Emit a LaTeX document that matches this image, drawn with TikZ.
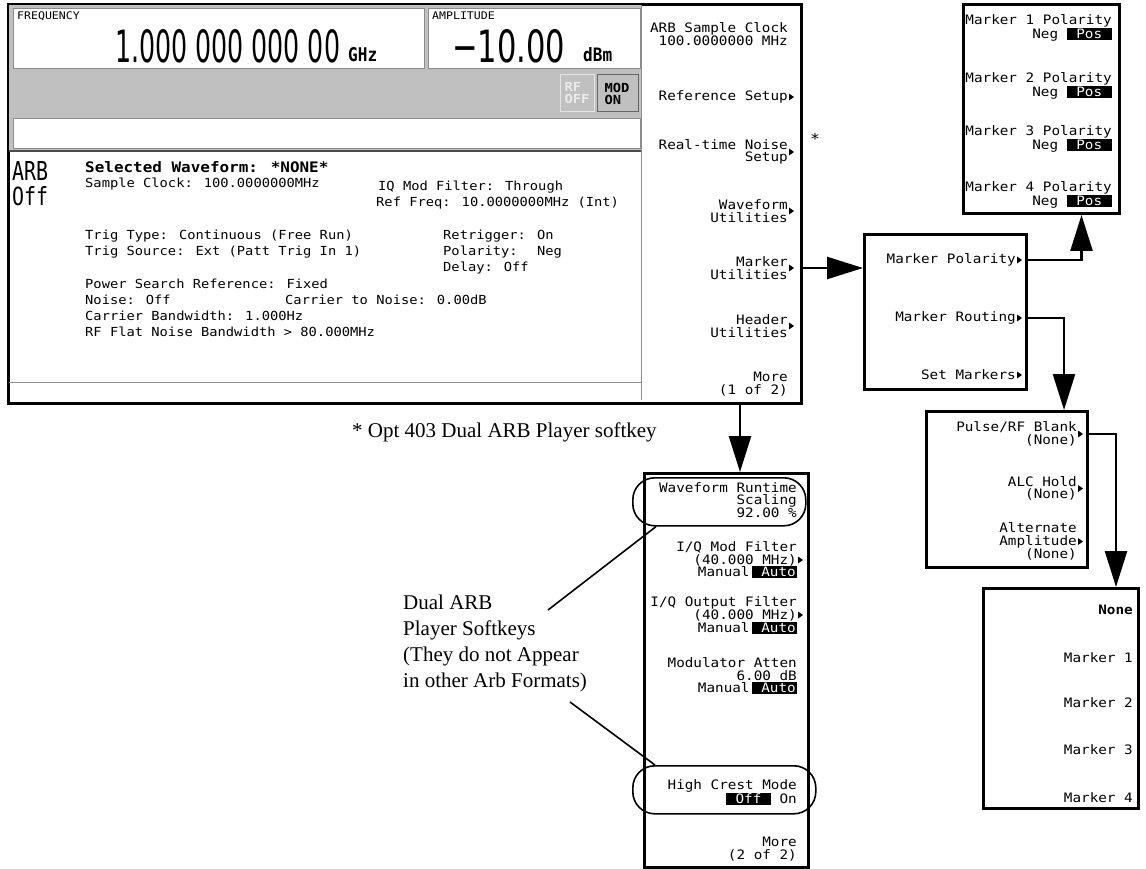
\documentclass[tikz,border=0pt]{standalone}
\usepackage{fontspec}
\usepackage{graphicx}
\setmainfont{Liberation Serif}
\newfontfamily\lcdmono[FakeStretch=1.10]{DejaVu Sans Mono}
\newfontfamily\lcdsans{DejaVu Sans}
\usetikzlibrary{arrows.meta,positioning}

\definecolor{lcdgray}{HTML}{C0C0C0}
\definecolor{edgegray}{HTML}{8C8C8C}

\newcommand\keyfont{\lcdmono\fontsize{13}{12.5}\selectfont}
\newcommand\infofont{\lcdmono\fontsize{12.5}{16}\selectfont}
\newcommand\hibox[1]{{\fboxsep=1pt\colorbox{black}{\textcolor{white}{#1}}}}
\newcommand\keytip[1]{\fill ([xshift=1pt]#1) +(0,-3.5) -- +(5,0) -- +(0,3.5) -- cycle;}

\tikzset{
  panel/.style={draw, line width=3pt, fill=white, inner sep=0pt, anchor=north west},
  skey/.style={font=\keyfont, align=right, anchor=east, inner sep=0pt},
  info/.style={font=\infofont, anchor=west, inner sep=0pt},
  link/.style={line width=2.5pt},
  bigtip/.style={-{Triangle[length=36pt,width=22pt]}},
  ring/.style={draw, line width=1.6pt, rounded corners=22pt, inner sep=0pt, anchor=north west},
  leader/.style={line width=1.6pt},
  note/.style={font=\fontsize{21}{26}\selectfont, inner sep=0pt}
}

\begin{document}
\begin{tikzpicture}[x=1pt,y=-1pt]
\useasboundingbox (0,0) rectangle (1146,869);

% main screen
\node[panel, minimum width=793pt, minimum height=399pt] (screen) at (7,3) {};
\fill[lcdgray] (9,5) rectangle (641,151);
\draw[edgegray, fill=white] (13,8) rectangle (424,68);
\draw[edgegray, fill=white] (428,8) rectangle (640,68);
\draw[edgegray, fill=white] (13,118) rectangle (640,148);
\draw[white!90!black, fill=lcdgray, line width=1pt] (560,75) rectangle (594,112);
\draw[black!60, fill=lcdgray, line width=1pt] (597,75) rectangle (638,112);
\draw[black!70, line width=1.2pt] (9,151) -- (641,151);
\draw[edgegray] (9,382) -- (641,382);
\draw[edgegray] (641,5) -- (641,400);

\node[info, font=\lcdmono\fontsize{10.5}{10}\selectfont] (freqlbl) at (17,16) {FREQUENCY};
\node[anchor=south west, inner sep=0pt] (freqval) at (115,63) {\resizebox{225pt}{33pt}{\lcdsans 1.000 000 000 00}};
\node[anchor=south west, inner sep=0pt] (ghz) at (348,62) {\resizebox{29pt}{14pt}{\lcdmono\bfseries GHz}};
\node[info, font=\lcdmono\fontsize{10.5}{10}\selectfont] (amplbl) at (432,16) {AMPLITUDE};
\node[anchor=south west, inner sep=0pt] (ampval) at (452,63) {\resizebox{113pt}{33pt}{\lcdsans −10.00}};
\node[anchor=south west, inner sep=0pt] (dbm) at (583,62) {\resizebox{29pt}{14pt}{\lcdmono\bfseries dBm}};
\node[font=\lcdmono\bfseries\fontsize{12.5}{12}\selectfont, text=white!92!black, align=left, inner sep=0pt] (rfoff) at (577,93.5) {RF\\OFF};
\node[font=\lcdmono\bfseries\fontsize{12.5}{12}\selectfont, align=left, inner sep=0pt] (modon) at (617,93.5) {MOD\\ON};

% status text
\node[anchor=south west, inner sep=0pt] (arbword) at (12,181) {\resizebox{36pt}{19pt}{\lcdmono ARB}};
\node[anchor=south west, inner sep=0pt] (offword) at (12,206) {\resizebox{36pt}{19pt}{\lcdmono Off}};
\node[info, font=\lcdmono\bfseries\fontsize{14.5}{14}\selectfont] (selwave) at (85,167) {Selected Waveform: *NONE*};
\node[info] (sclk) at (85,184) {Sample Clock: 100.0000000MHz};
\node[info] (iqmod) at (378,187) {IQ Mod Filter: Through};
\node[info] (reffreq) at (376,203) {Ref Freq: 10.0000000MHz (Int)};
\node[info] (trigtype) at (85,236) {Trig Type: Continuous (Free Run)};
\node[info] (trigsrc) at (85,252) {Trig Source: Ext (Patt Trig In 1)};
\node[info, align=left] (retrig) at (443,252) {Retrigger: On\\Polarity:~ Neg\\Delay: Off};
\node[info] (pwrsrch) at (85,284) {Power Search Reference: Fixed};
\node[info] (noise) at (85,300) {Noise: Off};
\node[info] (cnr) at (285,300) {Carrier to Noise: 0.00dB};
\node[info] (carbw) at (85,316) {Carrier Bandwidth: 1.000Hz};
\node[info] (flatbw) at (85,332) {RF Flat Noise Bandwidth > 80.000MHz};

% softkeys (1 of 2)
\node[skey] (arbclk) at (788,34) {ARB Sample Clock\\100.0000000 MHz};
\node[skey] (refset) at (788,97) {Reference Setup};
\node[skey] (rtnoise) at (788,152) {Real-time Noise\\Setup};
\node[skey] (wfutil) at (788,211) {Waveform\\Utilities};
\node[skey] (mkutil) at (788,268) {Marker\\Utilities};
\node[skey] (hdutil) at (788,326) {Header\\Utilities};
\node[skey] (more1) at (788,384) {More\\(1 of 2)};
\keytip{refset.east}
\keytip{rtnoise.east}
\keytip{wfutil.east}
\keytip{mkutil.east}
\keytip{hdutil.east}
\node[font=\lcdmono\fontsize{15}{15}\selectfont, inner sep=0pt] (star) at (815,139) {*};

% marker utilities
\node[panel, minimum width=162pt, minimum height=155pt] (mkpanel) at (863,233) {};
\node[skey] (mkpol) at (1016,260) {Marker Polarity};
\node[skey] (mkrout) at (1016,318) {Marker Routing};
\node[skey] (setmk) at (1016,375) {Set Markers};
\keytip{mkpol.east}
\keytip{mkrout.east}
\keytip{setmk.east}

% marker polarity
\node[panel, minimum width=156pt, minimum height=209pt] (polpanel) at (962,3) {};
\foreach \i/\y in {1/28,2/86,3/139,4/195}
  \node[skey] (pol\i) at (1112,\y) {Marker \i\ Polarity\\Neg~\hibox{~Pos~}};

% marker routing
\node[panel, minimum width=161pt, minimum height=156pt] (rtpanel) at (925,410) {};
\node[skey] (pulse) at (1077,434) {Pulse/RF Blank\\(None)};
\node[skey] (alchold) at (1077,488.5) {ALC Hold\\(None)};
\node[skey] (altamp) at (1077,541.5) {Alternate\\Amplitude\\(None)};
\keytip{pulse.east}
\keytip{alchold.east}
\keytip{altamp.east}

% marker choice
\node[panel, minimum width=155pt, minimum height=220pt] (mklist) at (982,587) {};
\node[skey, font=\keyfont\bfseries] (nomark) at (1133,610) {None};
\foreach \i/\y in {1/658,2/703,3/750,4/798}
  \node[skey] (mk\i) at (1133,\y) {Marker \i};

% softkeys (2 of 2)
\node[panel, minimum width=164pt, minimum height=394pt] (morepanel) at (643,472) {};
\node[skey] (runtime) at (797,500) {Waveform Runtime\\Scaling\\92.00 \%};
\node[skey] (modfilt) at (797,560) {I/Q Mod Filter\\(40.000 MHz)\\Manual\,\hibox{~Auto}};
\node[skey] (outfilt) at (797,615) {I/Q Output Filter\\(40.000 MHz)\\Manual\,\hibox{~Auto}};
\node[skey] (modatt) at (797,676) {Modulator Atten\\6.00 dB\\Manual\,\hibox{~Auto}};
\node[skey] (crest) at (797,792) {High Crest Mode\\\hibox{~Off~}~On};
\node[skey] (more2) at (797,849) {More\\(2 of 2)};
\keytip{modfilt.east}
\keytip{outfilt.east}
\node[ring, minimum width=173pt, minimum height=48pt] (wfring) at (632,477) {};
\node[ring, minimum width=183pt, minimum height=48pt] (hcring) at (632,765) {};

% notes
\node[note, anchor=west] (optnote) at (352,432) {* Opt 403 Dual ARB Player softkey};
\node[note, align=left, anchor=north west] (dualnote) at (403,595) {Dual ARB\\Player Softkeys\\(They do not Appear\\in other Arb Formats)};
\coordinate (lead1) at (548,610);
\coordinate (lead2) at (570,702);
\draw[leader] (lead1) -- ([xshift=24pt]wfring.south west);
\draw[leader] (lead2) -- ([xshift=23pt]hcring.north west);

% arrows between menus
\coordinate (drop) at (740,0);
\draw[link,bigtip] (screen.east |- mkutil) -- (mkpanel.west |- mkutil);
\draw[link,bigtip] (mkpanel.east |- mkpol) -| ([xshift=40pt]polpanel.south);
\draw[link,bigtip] (mkpanel.east |- mkrout) -| ([xshift=57pt]rtpanel.north);
\draw[link,bigtip] (rtpanel.east |- pulse) -| ([xshift=55pt]mklist.north);
\draw[link,bigtip] (screen.south -| drop) -- (morepanel.north -| drop);

\end{tikzpicture}
\end{document}
